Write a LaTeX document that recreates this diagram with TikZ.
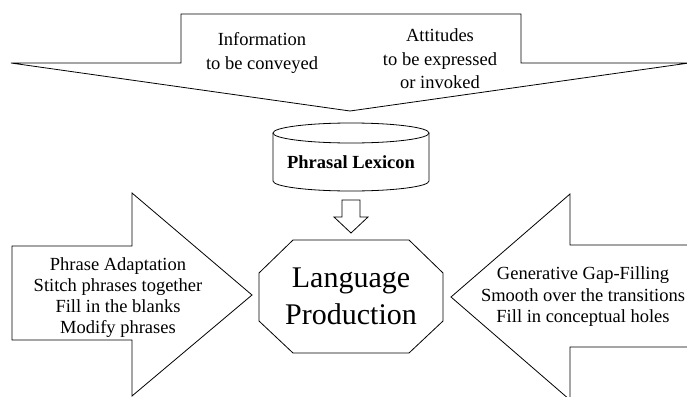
\documentclass[tikz,border=0pt]{standalone}
\usepackage{fontspec}
\setmainfont{Liberation Serif}
\begin{document}
\begin{tikzpicture}[x=1pt,y=-1pt,
  outline/.style={draw=black,line width=0.8pt,fill=white,line join=miter},
  sidetext/.style={align=center,inner sep=0pt,font=\fontsize{18.5}{21}\selectfont},
  toptext/.style={align=center,inner sep=0pt,font=\fontsize{18.5}{23.5}\selectfont}]
\useasboundingbox (0,0) rectangle (687,396);
\clip (0,0) rectangle (687,396);

% broad downward arrow carrying the inputs
\draw[outline] (11,63) -- (181,63) -- (181,14) -- (521,14) -- (521,63)
  -- (689,63) -- (350,111) -- cycle;
\node[toptext] (info) at (262,53) {Information\\to be conveyed};
\node[toptext] (att) at (440,59) {Attitudes\\to be expressed\\or invoked};

% phrasal lexicon cylinder
\draw[outline] (273,133) -- (273,181) arc[start angle=180,end angle=360,x radius=78,y radius=-10]
  -- (429,133);
\draw[outline] (351,133) ellipse[x radius=78,y radius=10];
\node[inner sep=0pt,font=\fontsize{18.5}{22}\selectfont\bfseries] (lex) at (351,162) {Phrasal Lexicon};

% small arrow from lexicon to production
\draw[outline] (342,200) -- (360,200) -- (360,217) -- (368,217) -- (351,233)
  -- (334,217) -- (342,217) -- cycle;

% central octagon
\draw[outline] (293,240) -- (409,240) -- (443,273) -- (443,321) -- (409,353)
  -- (293,353) -- (259,321) -- (259,273) -- cycle;
\node[align=center,inner sep=0pt,font=\fontsize{30}{37}\selectfont] (prod) at (351,296)
  {Language\\Production};

% left arrow: phrase adaptation
\draw[outline] (12,246) -- (132,246) -- (132,193) -- (252,295) -- (132,396)
  -- (132,340) -- (12,340) -- cycle;
\node[sidetext] (adapt) at (118,298)
  {Phrase Adaptation\\Stitch phrases together\\Fill in the blanks\\Modify phrases};

% right arrow: generative gap-filling
\draw[outline] (451,297) -- (570,194) -- (570,245) -- (700,245) -- (700,347)
  -- (570,347) -- (570,400) -- cycle;
\node[sidetext,font=\fontsize{18.5}{21.5}\selectfont] (gap) at (583,297)
  {Generative Gap-Filling\\Smooth over the transitions\\Fill in conceptual holes};
\end{tikzpicture}
\end{document}
